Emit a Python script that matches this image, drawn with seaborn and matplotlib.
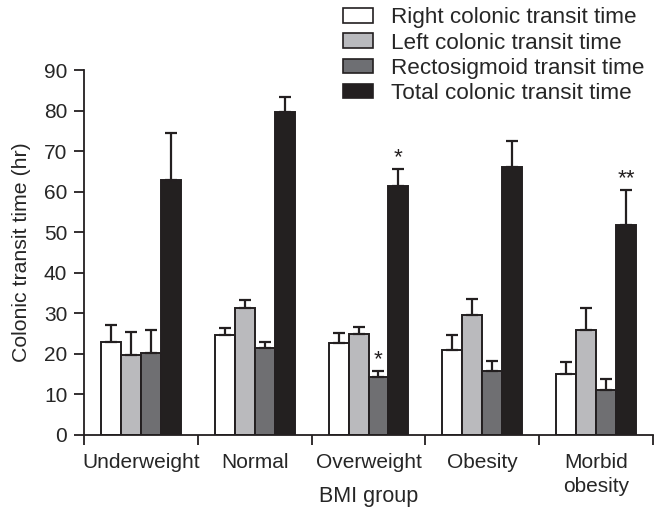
import matplotlib
matplotlib.use("Agg")
import matplotlib.pyplot as plt
import seaborn as sns
import pandas as pd
import numpy as np
from matplotlib.patches import Patch

categories = ["Underweight", "Normal", "Overweight", "Obesity", "Morbid\nobesity"]
series = ["Right colonic transit time", "Left colonic transit time",
          "Rectosigmoid transit time", "Total colonic transit time"]
right_vals = [23.0, 24.7, 22.6, 21.0, 15.0]
right_err = [4.1, 1.8, 2.5, 3.7, 3.0]
left_vals = [19.7, 31.4, 24.8, 29.5, 25.9]
left_err = [5.8, 1.9, 1.8, 4.0, 5.5]
recto_vals = [20.3, 21.5, 14.4, 15.8, 11.1]
recto_err = [5.5, 1.4, 1.5, 2.4, 2.6]
total_vals = [63.0, 79.7, 61.4, 66.0, 51.9]
total_err = [11.4, 3.7, 4.1, 6.5, 8.5]
stars = {("Overweight", 2): "*", ("Overweight", 3): "*", ("Morbid\nobesity", 3): "**"}

colors = ["#ffffff", "#b9babe", "#6e6f73", "#231f20"]
edge = "#231f20"

all_vals = [right_vals, left_vals, recto_vals, total_vals]
all_err = [right_err, left_err, recto_err, total_err]
rows = []
for s, vals in zip(series, all_vals):
    for c, v in zip(categories, vals):
        rows.append({"BMI group": c, "Series": s, "Value": v})
df = pd.DataFrame(rows)

sns.set_style("ticks")
plt.rcParams["font.family"] = ["Liberation Sans", "DejaVu Sans"]
fs = 15
lfs = 16.2

fig = plt.figure(figsize=(6.62, 5.14), dpi=100)
ax = fig.add_axes([84/662, 1-435/514, (653-84)/662, (435-70)/514])

sns.barplot(data=df, x="BMI group", y="Value", hue="Series", order=categories,
            hue_order=series, palette=colors, width=0.7, edgecolor=edge,
            linewidth=1.4, errorbar=None, legend=False, ax=ax)

for si, (bars, errs) in enumerate(zip(ax.containers, all_err)):
    xs = [b.get_x() + b.get_width()/2 for b in bars]
    ys = [b.get_height() for b in bars]
    ax.errorbar(xs, ys, yerr=[np.zeros(len(errs)), errs], fmt="none",
                ecolor=edge, elinewidth=1.6, capsize=4.5, capthick=1.6, zorder=1)
    for ci, c in enumerate(categories):
        key = (c, si)
        if key in stars:
            ax.text(xs[ci], ys[ci] + errs[ci] + 0.2, stars[key], ha="center",
                    va="bottom", fontsize=lfs, color=edge)

ax.set_ylim(0, 90)
ax.set_xlim(-0.5, 4.5)
ax.set_yticks(range(0, 91, 10))
ax.set_xticks(range(5))
ax.set_xticklabels(categories, fontsize=fs, linespacing=1.3)
ax.set_xticks(np.arange(-0.5, 4.6, 1), minor=True)
ax.tick_params(axis="x", which="major", length=0, pad=13)
ax.tick_params(axis="x", which="minor", length=7, width=1.3, color=edge)
ax.tick_params(axis="y", length=7, width=1.3, color=edge, labelsize=fs, pad=5)
for sp in ["left", "bottom"]:
    ax.spines[sp].set_linewidth(1.3)
    ax.spines[sp].set_color(edge)
sns.despine(ax=ax)
ax.set_xlabel("BMI group", fontsize=fs + 0.5, labelpad=-7)
ax.set_ylabel("Colonic transit time (hr)", fontsize=fs + 0.3, labelpad=9)

handles = [Patch(facecolor=c, edgecolor=edge, linewidth=1.2) for c in colors]
fig.legend(handles, series, loc="upper left", bbox_to_anchor=(338/662, 1-3/514),
           frameon=False, fontsize=lfs, handlelength=1.35, handleheight=0.6,
           handletextpad=0.8, labelspacing=0.18, borderaxespad=0, borderpad=0.2)

fig.savefig("out.png", dpi=100)
